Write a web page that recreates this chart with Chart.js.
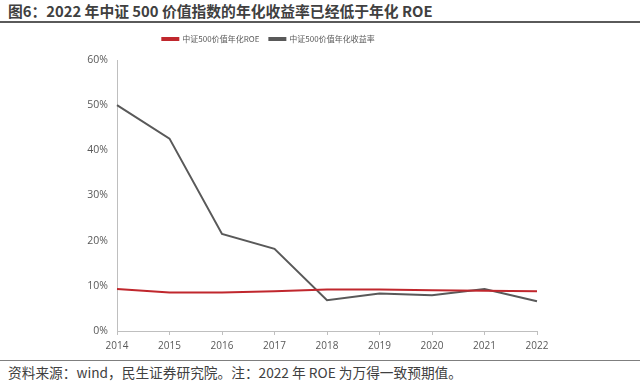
<!DOCTYPE html>
<html><head><meta charset="utf-8">
<script src="https://cdn.jsdelivr.net/npm/chart.js@4/dist/chart.umd.min.js"></script>
<style>
html,body{margin:0;padding:0;background:#fff;width:640px;height:383px;overflow:hidden;position:relative;font-family:"Noto Sans CJK SC","Noto Sans",sans-serif;}
#title{position:absolute;left:8px;top:1px;font-size:14.8px;font-weight:bold;color:#404040;white-space:nowrap;line-height:20px;}
#rule1{position:absolute;left:0;top:21px;width:640px;height:2px;background:#5a5a5a;}
#rule2{position:absolute;left:0;top:360px;width:640px;height:1px;background:#7f7f7f;}
#note{position:absolute;left:8px;top:363px;font-size:13.7px;color:#404040;white-space:nowrap;line-height:18px;}
#wrap{position:absolute;left:0;top:25px;width:640px;height:333px;}
</style></head>
<body>
<div id="title">图6：2022 年中证 500 价值指数的年化收益率已经低于年化 ROE</div>
<div id="rule1"></div>
<div id="wrap"><canvas id="c" width="640" height="333"></canvas></div>
<div id="rule2"></div>
<div id="note">资料来源：wind，民生证券研究院。注：2022 年 ROE 为万得一致预期值。</div>
<script>
const years = ["2014","2015","2016","2017","2018","2019","2020","2021","2022"];
const roe = [9.3, 8.5, 8.5, 8.8, 9.2, 9.2, 9.0, 8.9, 8.8];
const annualReturn = [50.0, 42.6, 21.5, 18.2, 6.8, 8.3, 7.9, 9.3, 6.6];
const seriesNames = ["中证500价值年化ROE", "中证500价值年化收益率"];
const yTicks = [0, 10, 20, 30, 40, 50, 60];

const legendGap = {
  id: 'legendGap',
  beforeLayout(chart) {
    const lg = chart.legend;
    if (lg && !lg._gapPatched) {
      const f = lg.fit;
      lg.fit = function () { f.call(this); this.height += 7; };
      lg._gapPatched = true;
    }
  }
};

new Chart(document.getElementById('c'), {
  type: 'line',
  data: {
    labels: years,
    datasets: [
      {label: seriesNames[0], data: roe, borderColor: '#c0272d', backgroundColor: '#c0272d', borderWidth: 2, pointRadius: 0, tension: 0},
      {label: seriesNames[1], data: annualReturn, borderColor: '#595959', backgroundColor: '#595959', borderWidth: 2, pointRadius: 0, tension: 0}
    ]
  },
  plugins: [legendGap],
  options: {
    responsive: false,
    animation: false,
    layout: {padding: {left: 0, right: 103, top: 0, bottom: 0}},
    plugins: {
      tooltip: {enabled: false},
      legend: {
        display: true,
        position: 'top',
        align: 'center',
        labels: {boxWidth: 16, boxHeight: 2, padding: 10, color: '#595959', font: {family: '"Noto Sans CJK SC"', size: 8}}
      }
    },
    scales: {
      x: {
        offset: false,
        afterFit: s => { s.height = 27; },
        grid: {display: true, drawOnChartArea: false, drawTicks: true, tickLength: 4, color: '#bfbfbf'},
        border: {display: true, color: '#bfbfbf', width: 1},
        ticks: {color: '#595959', font: {family: '"Open Sans"', size: 10}, padding: 5, maxRotation: 0, autoSkip: false}
      },
      y: {
        min: 0, max: 60,
        afterFit: s => { s.width = 117; },
        afterBuildTicks: s => { s.ticks = yTicks.map(v => ({value: v})); },
        grid: {display: false, tickLength: 0},
        border: {display: true, color: '#bfbfbf', width: 1},
        ticks: {color: '#595959', font: {family: '"Open Sans"', size: 10.5}, padding: 9, callback: v => v + '%'}
      }
    }
  }
});
</script>
</body></html>
